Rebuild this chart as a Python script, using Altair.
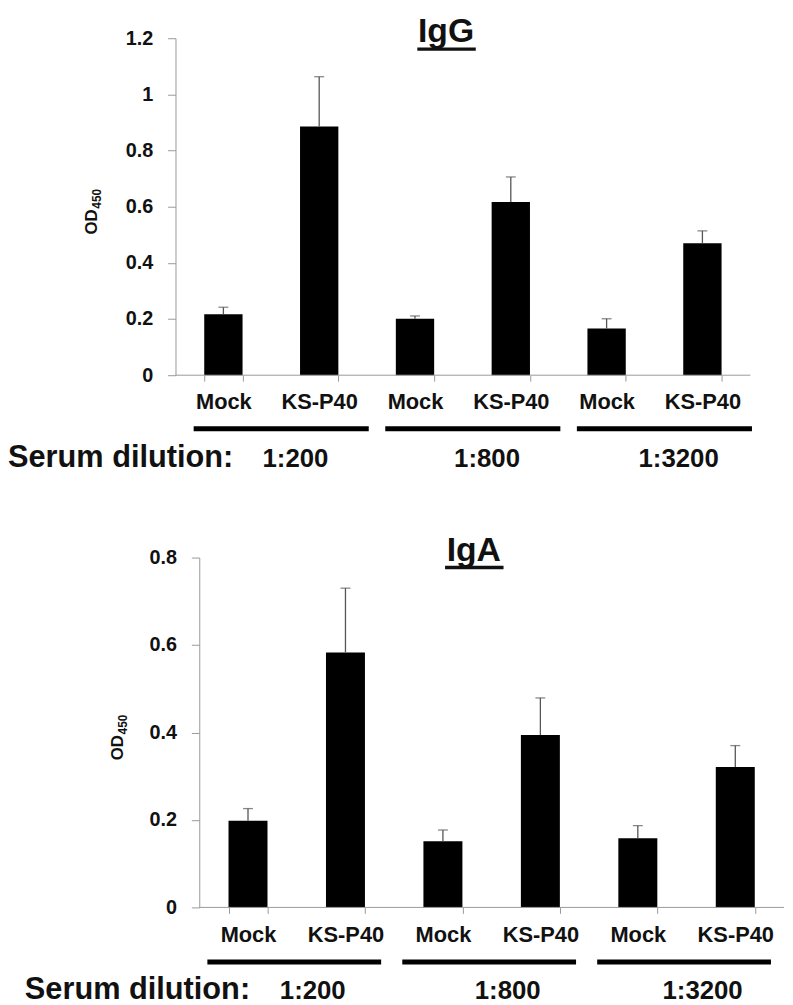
import altair as alt
import pandas as pd

# ---- data ----
treatments = ["Mock", "KS-P40", "Mock", "KS-P40", "Mock", "KS-P40"]
dilutions = ["1:200", "1:800", "1:3200"]
igg_mean = [0.217, 0.886, 0.201, 0.617, 0.166, 0.470]
igg_err = [0.025, 0.177, 0.010, 0.089, 0.035, 0.044]
iga_mean = [0.198, 0.583, 0.151, 0.394, 0.158, 0.321]
iga_err = [0.028, 0.147, 0.026, 0.085, 0.029, 0.049]
igg_ticks = [0, 0.2, 0.4, 0.6, 0.8, 1.0, 1.2]
iga_ticks = [0, 0.2, 0.4, 0.6, 0.8]

FONT = "Liberation Sans"
AXIS_GREY = "#999"
keys = [f"{t}_{i}" for i, t in enumerate(treatments)]


def panel(title, means, errs, ymax, ticks, W, H, o):
    df = pd.DataFrame({
        "key": keys,
        "mean": means,
        "upper": [m + e for m, e in zip(means, errs)],
    })
    gdf = pd.DataFrame({"dil": dilutions, "k1": keys[0::2], "k2": keys[1::2]})
    xs = alt.Scale(domain=keys, paddingInner=0.6, paddingOuter=o["po"], align=o["align"])
    x = alt.X("key:N", scale=xs, title=None,
              axis=alt.Axis(labelExpr="split(datum.label, '_')[0]", labelAngle=0,
                            tickBand="extent", tickSize=6, labelPadding=11,
                            labelFontSize=22, domain=False))
    y = alt.Y("mean:Q", title=None,
              scale=alt.Scale(domain=[0, ymax], nice=False, zero=True),
              axis=alt.Axis(values=ticks, format="~g", tickSize=8, offset=o["yoff"],
                            labelPadding=15, labelFontSize=20))
    base = alt.Chart(df)
    bars = base.mark_bar(color="black").encode(x=x, y=y)
    err = base.mark_rule(color="#555", strokeWidth=1.3).encode(
        x=alt.X("key:N"), y="mean:Q", y2="upper:Q")
    cap = base.mark_tick(color="#555", thickness=1.3, size=10, orient="horizontal").encode(
        x=alt.X("key:N"), y="upper:Q")

    # x-axis base line (starts where the y axis sits)
    xline = alt.Chart(pd.DataFrame({"v": [0]})).mark_rule(color=AXIS_GREY, strokeWidth=1).encode(
        x=alt.value(-o["yoff"]), x2=alt.value(W), y=alt.value(H))

    tdf = pd.DataFrame({"t": [title]})
    ttl = alt.Chart(tdf).mark_text(font=FONT, fontSize=34, fontWeight="bold",
                                   align="center", baseline="alphabetic", color="#111").encode(
        text="t:N", x=alt.value(o["tx"]), y=alt.value(o["ty"]))
    tul = alt.Chart(tdf).mark_rule(color="#111", strokeWidth=3.5).encode(
        x=alt.value(o["tx"] - 29), x2=alt.value(o["tx"] + 30), y=alt.value(o["ty"] + 7))

    odf = pd.DataFrame({"a": ["OD"], "b": ["450"]})
    od = alt.Chart(odf).mark_text(font=FONT, fontSize=17, fontWeight="bold", angle=270,
                                  align="left", baseline="alphabetic", color="#111").encode(
        text="a:N", x=alt.value(o["odx"]), y=alt.value(H / 2 + 28))
    sub = alt.Chart(odf).mark_text(font=FONT, fontSize=12, fontWeight="bold", angle=270,
                                   align="left", baseline="alphabetic", color="#111").encode(
        text="b:N", x=alt.value(o["odx"] + 4), y=alt.value(H / 2 + 2))

    gb = alt.Chart(gdf)
    gline = gb.mark_rule(color="black", strokeWidth=5, xOffset=o["gx1"], x2Offset=o["gx2"]).encode(
        x=alt.X("k1:N"), x2="k2:N", y=alt.value(H + o["gly"]))
    gtext = gb.mark_text(font=FONT, fontSize=26, fontWeight="bold", align="center",
                         baseline="alphabetic", color="#111", dx=o["gdx"]).encode(
        x=alt.X("k2:N"), y=alt.value(H + o["gty"]), text="dil:N")
    sdf = pd.DataFrame({"s": ["Serum dilution:"]})
    stext = alt.Chart(sdf).mark_text(font=FONT, fontSize=31, fontWeight="bold", align="left",
                                     baseline="alphabetic", color="#111").encode(
        x=alt.value(o["sx"]), y=alt.value(H + o["gty"]), text="s:N")
    layers = [bars, err, cap, xline, ttl, tul, od, sub, gline, gtext, stext]
    return alt.layer(*layers).properties(width=W, height=H)


# top panel: plot area x 177..757 ; bottom panel: axis 201..791 (shared origin at 177)
top = panel("IgG", igg_mean, igg_err, 1.2, igg_ticks, 580, 340,
            dict(po=0.3, align=0.5, yoff=0, tx=273, ty=4, odx=-79, gx1=-30, gx2=50,
                 gly=54, gty=93, gdx=-24, sx=-169))
bottom = panel("IgA", iga_mean, iga_err, 0.8, iga_ticks, 614, 353,
               dict(po=0.42203, align=0.6446, yoff=-24, tx=301, ty=3, odx=-53, gx1=-41,
                    gx2=36, gly=55, gty=92, gdx=-33, sx=-152))

chart = alt.vconcat(top, bottom, spacing=61).properties(
    padding={"left": 0, "top": 3, "right": 0, "bottom": 0}
).configure_view(stroke=None).configure_axis(
    domainColor=AXIS_GREY, tickColor=AXIS_GREY, grid=False,
    labelFont=FONT, labelFontWeight="bold", labelColor="#111",
)

chart.save("out.html", embed_options={"renderer": "svg", "actions": False})
